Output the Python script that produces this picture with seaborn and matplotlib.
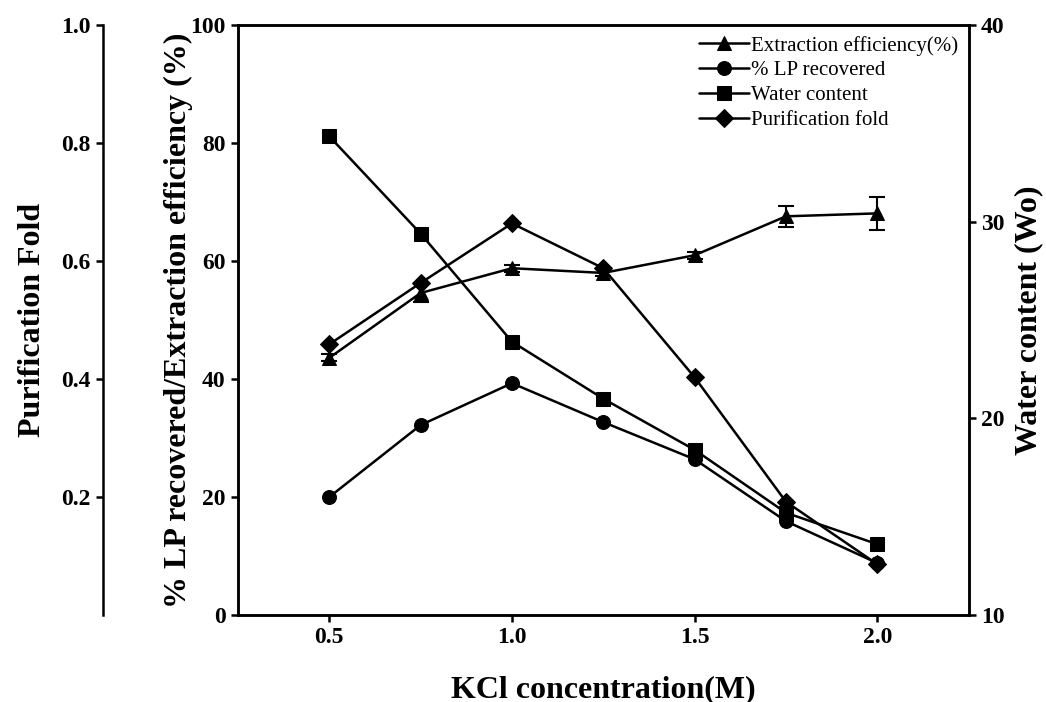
import numpy as np
import pandas as pd
import seaborn as sns
import matplotlib.pyplot as plt
from matplotlib import ticker

# data
kcl = [0.5, 0.75, 1.0, 1.25, 1.5, 1.75, 2.0]
extraction_eff = [43.6, 54.6, 58.8, 58.0, 61.0, 67.6, 68.1]
extraction_err = [0.6, 1.5, 0.6, 0.6, 0.6, 1.8, 2.8]
lp_recovered = [20.0, 32.2, 39.3, 32.7, 26.4, 15.9, 8.8]
water_content = [34.35, 29.4, 23.9, 21.0, 18.4, 15.2, 13.6]
purif_fold = [0.459, 0.563, 0.664, 0.588, 0.403, 0.192, 0.086]

sns.set_style("ticks")
plt.rcParams['font.family'] = ['Liberation Serif', 'DejaVu Serif']
plt.rcParams['axes.linewidth'] = 1.8
plt.rcParams['xtick.major.width'] = 1.8
plt.rcParams['ytick.major.width'] = 1.8
plt.rcParams['xtick.major.size'] = 5
plt.rcParams['ytick.major.size'] = 5
for key in ('text.color', 'axes.labelcolor', 'xtick.color', 'ytick.color',
            'axes.edgecolor'):
    plt.rcParams[key] = 'black'

fig = plt.figure(figsize=(10.46, 7.02), dpi=100)
ax = fig.add_axes([0.2275, 0.124, 0.6985, 0.840])
ax_w = ax.twinx()     # water content (right)
ax_p = ax.twinx()     # purification fold (far left)

line_kw = dict(color='black', linewidth=1.8, markersize=10,
               markeredgecolor='black')

sns.lineplot(x=kcl, y=extraction_eff, marker='^', ax=ax,
             label='Extraction efficiency(%)', **line_kw)
ax.errorbar(kcl, extraction_eff, yerr=extraction_err, fmt='none',
            ecolor='black', elinewidth=1.5, capsize=6, capthick=1.5)
sns.lineplot(x=kcl, y=lp_recovered, marker='o', ax=ax,
             label='% LP recovered', **line_kw)
sns.lineplot(x=kcl, y=water_content, marker='s', ax=ax_w,
             label='Water content', **line_kw)
sns.lineplot(x=kcl, y=purif_fold, marker='D', ax=ax_p,
             label='Purification fold', **{**line_kw, 'markersize': 9})

# main axis
ax.set_xlim(0.25, 2.25)
ax.set_ylim(0, 100)
ax.xaxis.set_major_locator(ticker.MultipleLocator(0.5))
ax.yaxis.set_major_locator(ticker.MultipleLocator(20))
ax.set_xlabel('KCl concentration(M)', fontsize=23, fontweight='bold', labelpad=19)
ax.set_ylabel('% LP recovered/Extraction efficiency (%)', fontsize=23,
              fontweight='bold', labelpad=-2)

# right axis
ax_w.set_ylim(10, 40)
ax_w.yaxis.set_major_locator(ticker.MultipleLocator(10))
ax_w.set_ylabel('Water content (Wo)', fontsize=23, fontweight='bold', labelpad=7)

# far-left axis
ax_p.set_ylim(0, 1.0)
ax_p.set_yticks([0.2, 0.4, 0.6, 0.8, 1.0])
ax_p.spines['left'].set_position(('axes', -0.185))
ax_p.spines['left'].set_visible(True)
ax_p.spines['right'].set_visible(False)
ax_p.yaxis.set_label_position('left')
ax_p.yaxis.set_ticks_position('left')
ax_p.set_ylabel('Purification Fold', fontsize=23, fontweight='bold', labelpad=10)
ax_p.spines['top'].set_visible(False)
ax_p.spines['bottom'].set_visible(False)

for a in (ax, ax_w, ax_p):
    for lab in a.get_xticklabels() + a.get_yticklabels():
        lab.set_fontweight('bold')
        lab.set_fontsize(17)
    a.tick_params(direction='out', pad=4)

# legend
handles, labels = [], []
for a in (ax, ax_w, ax_p):
    h, l = a.get_legend_handles_labels()
    handles += h
    labels += l
    if a.get_legend() is not None:
        a.get_legend().remove()
ax_p.legend(handles, labels, loc='upper right', frameon=False, fontsize=15,
            handlelength=2.4, handletextpad=0.1, labelspacing=0.25,
            bbox_to_anchor=(1.0, 1.0), borderaxespad=0.1)

plt.savefig('out.png', dpi=100)
